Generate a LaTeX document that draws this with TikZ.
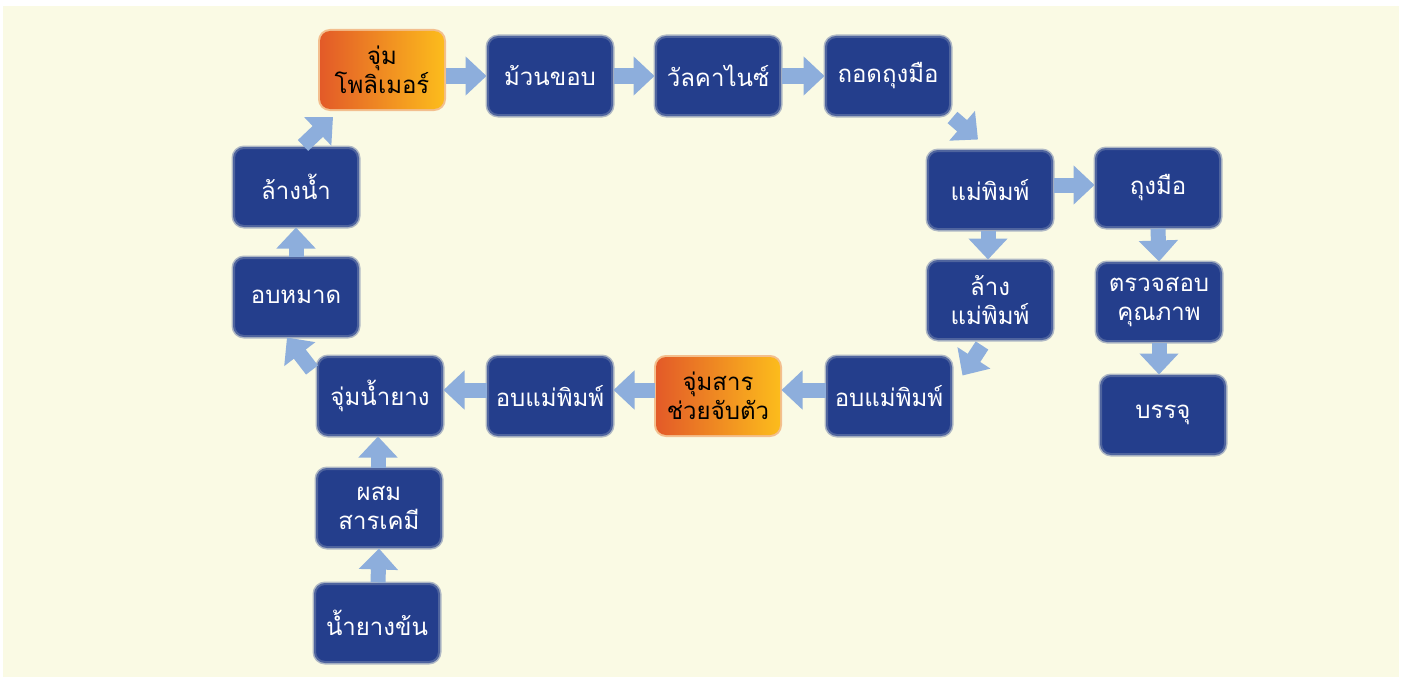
\documentclass[tikz,border=0pt]{standalone}
\usepackage{fontspec}
\newfontfamily\thaifont[Script=Thai]{Loma}
\usetikzlibrary{arrows.meta,calc}
\definecolor{bg}{HTML}{FAFAE4}
\definecolor{boxblue}{HTML}{243E8C}
\definecolor{arrblue}{HTML}{8DAEDC}
\definecolor{orL}{HTML}{E35A28}
\definecolor{orR}{HTML}{FCBC1C}
\tikzset{
  stepbase/.style={rounded corners=10pt, minimum width=124pt, minimum height=78pt,
    outer sep=1.5pt, align=center, inner sep=0pt, font=\thaifont\fontsize{24}{29}\selectfont},
  bluebox/.style={stepbase, fill=boxblue, draw=boxblue!80!bg, line width=2pt, text=white,
    preaction={draw=boxblue!35!bg, line width=5pt}},
  orangebox/.style={stepbase, left color=orL, right color=orR, text=black,
    preaction={draw=orR!30!orL!45!bg, line width=4pt}},
  arr/.style={draw=arrblue, line width=15pt, -{Triangle[width=38pt,length=21pt]}}
}
\begin{document}
\begin{tikzpicture}[x=1pt,y=-1pt]
\useasboundingbox (0,0) rectangle (1405,677);
\fill[bg] (3,6) rectangle (1399,677);
\node[orangebox] (b1) at (382,70) {จุ่ม\\โพลิเมอร์};
\node[bluebox] (b2) at (550,76) {ม้วนขอบ};
\node[bluebox] (b3) at (718,76) {วัลคาไนซ์};
\node[bluebox] (b4) at (888,76) {ถอดถุงมือ};
\node[bluebox] (b5) at (990,190) {แม่พิมพ์};
\node[bluebox] (b6) at (1158,188) {ถุงมือ};
\node[bluebox] (b7) at (1159,302) {ตรวจสอบ\\คุณภาพ};
\node[bluebox] (b8) at (1163,415) {บรรจุ};
\node[bluebox] (b9) at (990,300) {ล้าง\\แม่พิมพ์};
\node[bluebox] (b10) at (889,396) {อบแม่พิมพ์};
\node[orangebox] (b11) at (718,396) {จุ่มสาร\\ช่วยจับตัว};
\node[bluebox] (b12) at (550,396) {อบแม่พิมพ์};
\node[bluebox] (b13) at (380,396) {จุ่มน้ำยาง};
\node[bluebox] (b14) at (379,508) {ผสม\\สารเคมี};
\node[bluebox] (b15) at (377,623) {น้ำยางข้น};
\node[bluebox] (b16) at (296,297) {อบหมาด};
\node[bluebox] (b17) at (296,187) {ล้างน้ำ};
% connectors
\draw[arr] (b1.east |- b2) -- (b2.west);
\draw[arr] (b2.east) -- (b3.west);
\draw[arr] (b3.east) -- (b4.west);
\draw[arr] ($(b4.south east)+(1,1)$) -- ($(b5.north)+(-12,-10)$);
\draw[arr] ($(b5.east)+(0,-5)$) -- ($(b6.west)+(0,-3)$);
\draw[arr] ($(b5.south)+(-2,0)$) -- ($(b9.north)+(-2,0)$);
\draw[arr] (b6.south) -- (b7.north);
\draw[arr] (b7.south) -- (b7.south |- b8.north);
\draw[arr] ($(b9.south)+(-8,5)$) -- ($(b10.north east)+(10,20)$);
\draw[arr] ($(b10.west)+(0,-6)$) -- ($(b11.east)+(0,-6)$);
\draw[arr] ($(b11.west)+(0,-6)$) -- ($(b12.east)+(0,-6)$);
\draw[arr] ($(b12.west)+(0,-6)$) -- ($(b13.east)+(0,-6)$);
\draw[arr] ($(b13.north west)+(-4.5,14.5)$) -- ($(b16.south)+(-9,0)$);
\draw[arr] ($(b15.north)+(1,0)$) -- ($(b14.south)+(0,0)$);
\draw[arr] ($(b14.north)+(-1,0)$) -- ($(b14.north |- b13.south)+(-1,0)$);
\draw[arr] (b16.north) -- (b17.south);
\draw[arr] ($(b17.north)+(7,-1)$) -- ($(b1.south west)+(14.5,6.5)$);
\end{tikzpicture}
\end{document}
